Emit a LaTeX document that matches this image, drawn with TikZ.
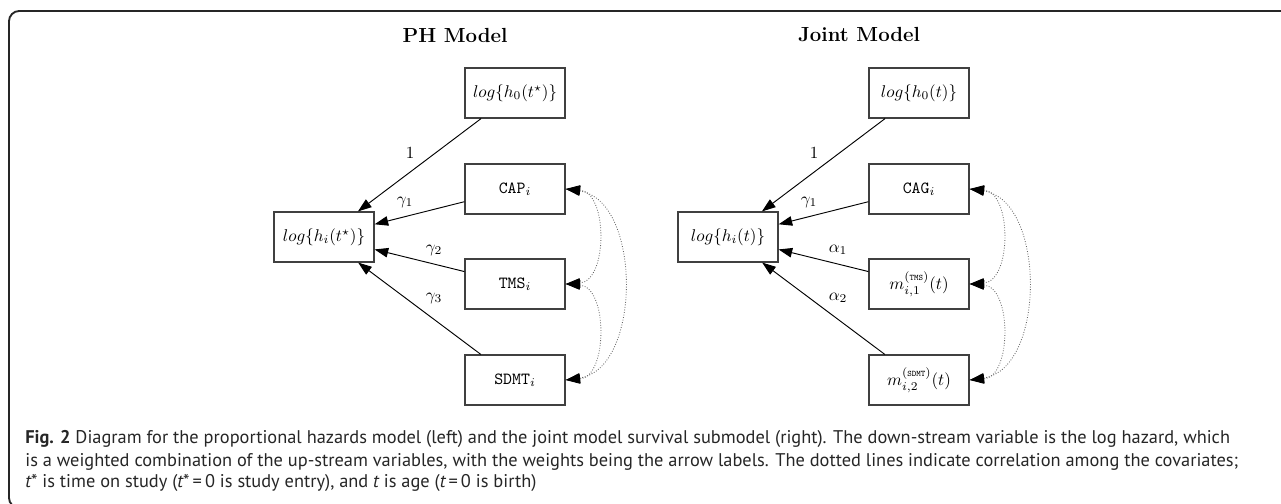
\RequirePackage{fix-cm}
\documentclass[tikz,border=0pt]{standalone}
\usepackage{fontspec}
\newfontfamily\capfont{PT Sans}
\usetikzlibrary{arrows.meta}
\tikzset{
  box/.style={draw=black!75, line width=0.7pt, minimum width=58.8pt, minimum height=29.4pt, inner sep=0pt},
  arr/.style={-{Triangle[length=8pt,width=5.6pt]}, line width=0.55pt},
  cor/.style={{Triangle[length=8.5pt,width=5.6pt,color=black]}-{Triangle[length=8.5pt,width=5.6pt,color=black]}, densely dotted, draw=black!60, line width=0.5pt},
  lab/.style={inner sep=0pt},
  ttl/.style={font=\large\bfseries},
  capline/.style={anchor=base west, inner sep=0pt, font=\capfont\fontsize{10.8pt}{12pt}\selectfont, text=black!85},
}
\newcommand{\supt}[1]{\mbox{\tiny\ttfamily #1}}
\begin{document}
\begin{tikzpicture}[x=0.588pt,y=-0.588pt]
\useasboundingbox (0,0) rectangle (1281,504);
\draw[line width=1.1pt, black!85, rounded corners=6pt] (1300,11) -- (9,11) -- (9,508) -- (1300,508);
% PH model
\node[ttl] (t1) at (455,35) {PH Model};
\node[box] (h0) at (515,93) {$log\{h_0(t^\star)\}$};
\node[box] (cap) at (515,189) {$\texttt{CAP}_i$};
\node[box] (tms) at (515,284) {$\texttt{TMS}_i$};
\node[box] (sdmt) at (515,380) {$\texttt{SDMT}_i$};
\node[box] (hi) at (324,237) {$log\{h_i(t^\star)\}$};
\draw[arr] (h0) -- (hi);
\draw[arr] (cap) -- (hi);
\draw[arr] (tms) -- (hi);
\draw[arr] (sdmt) -- (hi);
\node[lab] (l1) at (410,153) {$1$};
\node[lab] (l2) at (405,202) {$\gamma_1$};
\node[lab] (l3) at (434,250) {$\gamma_2$};
\node[lab] (l4) at (434,298) {$\gamma_3$};
\draw[cor] (cap.east) .. controls (608,192) and (608,281) .. (tms.east);
\draw[cor] (tms.east) .. controls (608,287) and (608,377) .. (sdmt.east);
\draw[cor] (cap.east) .. controls (642,200) and (642,369) .. (sdmt.east);
% Joint model
\node[ttl] (t2) at (859,35) {Joint Model};
\node[box] (jh0) at (919,93) {$log\{h_0(t)\}$};
\node[box] (cag) at (919,189) {$\texttt{CAG}_i$};
\node[box] (m1) at (919,284) {$m_{i,1}^{(\supt{TMS})}(t)$};
\node[box] (m2) at (919,380) {$m_{i,2}^{(\supt{SDMT})}(t)$};
\node[box] (jhi) at (728,237) {$log\{h_i(t)\}$};
\draw[arr] (jh0) -- (jhi);
\draw[arr] (cag) -- (jhi);
\draw[arr] (m1) -- (jhi);
\draw[arr] (m2) -- (jhi);
\node[lab] (k1) at (814,153) {$1$};
\node[lab] (k2) at (809,202) {$\gamma_1$};
\node[lab] (k3) at (838,250) {$\alpha_1$};
\node[lab] (k4) at (838,298) {$\alpha_2$};
\draw[cor] (cag.east) .. controls (1012,192) and (1012,281) .. (m1.east);
\draw[cor] (m1.east) .. controls (1012,287) and (1012,377) .. (m2.east);
\draw[cor] (cag.east) .. controls (1046,200) and (1046,369) .. (m2.east);
% caption
\node[capline] (c1) at (25,444) {\textbf{Fig. 2} Diagram for the proportional hazards model (left) and the joint model survival submodel (right). The down-stream variable is the log hazard, which};
\node[capline] (c2) at (25,466) {is a weighted combination of the up-stream variables, with the weights being the arrow labels. The dotted lines indicate correlation among the covariates;};
\node[capline] (c3) at (25,488) {{\itshape t}* is time on study ({\itshape t}*\,=\,0 is study entry), and {\itshape t} is age ({\itshape t}\,=\,0 is birth)};
\end{tikzpicture}
\end{document}
